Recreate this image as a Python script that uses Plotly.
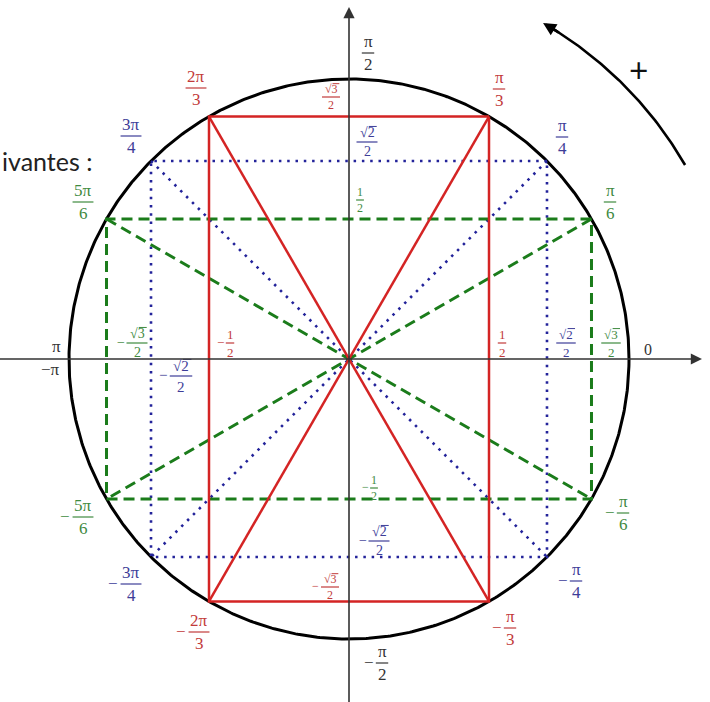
import numpy as np
import plotly.graph_objects as go

# ---------------- data ----------------
# remarkable angles (degrees) for each family
angles_red = [60, 120, -120, -60]      # pi/3, 2pi/3, -2pi/3, -pi/3
angles_blue = [45, 135, -135, -45]     # pi/4, 3pi/4, -3pi/4, -pi/4
angles_green = [30, 150, -150, -30]    # pi/6, 5pi/6, -5pi/6, -pi/6
arc_angles = [30, 60]                  # direction arrow (positive sense)

# angle labels: (numerator, denominator, negative?, family)
angle_labels = [
    ("π", "2", False, "gray"), ("π", "3", False, "red"), ("π", "4", False, "blue"),
    ("π", "6", False, "green"), ("2π", "3", False, "red"), ("3π", "4", False, "blue"),
    ("5π", "6", False, "green"), ("5π", "6", True, "green"), ("3π", "4", True, "blue"),
    ("2π", "3", True, "red"), ("π", "2", True, "gray"), ("π", "3", True, "red"),
    ("π", "4", True, "blue"), ("π", "6", True, "green"),
]
# cos / sin value labels: (numerator, denominator, negative?, family)
value_labels = [
    ("1", "2", False, "red"), ("√2", "2", False, "blue"), ("√3", "2", False, "green"),
    ("1", "2", True, "red"), ("√3", "2", True, "green"), ("√2", "2", True, "blue"),
    ("√3", "2", False, "red"), ("√2", "2", False, "blue"), ("1", "2", False, "green"),
    ("1", "2", True, "green"), ("√2", "2", True, "blue"), ("√3", "2", True, "red"),
]
intro_text = "ivantes :"

# ---------------- layout helpers ----------------
W, H = 710, 702
CX, CY, R = 349, 359, 280

# label placement (pixel centre of the fraction bar) and font size
angle_label_pos = [
    (368, 53, 17), (499, 89, 17), (562, 137, 17), (610, 202, 17), (196, 88, 17),
    (131, 136, 17), (83, 202, 17), (83, 517, 17), (131, 584, 17), (199, 632, 17),
    (382, 663, 17), (510, 628, 17), (576, 581, 17), (623, 513, 17),
]
value_label_pos = [
    (502, 343, 13), (566, 343, 13), (611, 343, 13), (230, 343, 13), (137, 343, 14),
    (181, 376, 15), (331, 97, 12), (367, 142, 14), (360, 200, 12), (374, 488, 12),
    (379, 541, 14), (330, 587, 12),
]

line_col = {"red": "#d42424", "blue": "#23239a", "green": "#1b7c1b"}
text_col = {"red": "#c23a3a", "blue": "#3d3d98", "green": "#3f8a3f", "gray": "#333333"}
FONT = "Liberation Serif"


def dx(p):
    return (p - CX) / R


def dy(p):
    return (CY - p) / R


def pt(a):
    t = np.deg2rad(a)
    return np.cos(t), np.sin(t)


fig = go.Figure()

# circle
t = np.linspace(0, 2 * np.pi, 721)
fig.add_trace(go.Scatter(x=np.cos(t), y=np.sin(t), mode="lines",
                         line=dict(color="black", width=3), hoverinfo="skip"))


def family_trace(angles, color, dash, width):
    P = [pt(a) for a in angles]
    xs, ys = [], []
    # rectangle
    for i in range(5):
        xs.append(P[i % 4][0]); ys.append(P[i % 4][1])
    xs.append(None); ys.append(None)
    # diagonals
    for i, j in [(0, 2), (1, 3)]:
        xs += [P[i][0], P[j][0], None]
        ys += [P[i][1], P[j][1], None]
    fig.add_trace(go.Scatter(x=xs, y=ys, mode="lines", hoverinfo="skip",
                             line=dict(color=color, width=width, dash=dash)))


family_trace(angles_blue, line_col["blue"], "2.5px,5.8px", 2.6)
family_trace(angles_green, line_col["green"], "11px,6px", 3)
family_trace(angles_red, line_col["red"], "solid", 2.5)

# rotation arc
ra = 1.386
ta = np.deg2rad(np.linspace(arc_angles[0], arc_angles[1] - 1.5, 80))
fig.add_trace(go.Scatter(x=ra * np.cos(ta), y=ra * np.sin(ta), mode="lines",
                         line=dict(color="black", width=2.6), hoverinfo="skip"))

annotations = []
shapes = []

# axes with arrows
annotations.append(dict(x=dx(702), y=0, ax=dx(-5), ay=0, axref="x", ayref="y",
                        xref="x", yref="y", text="", showarrow=True, arrowhead=2,
                        arrowsize=1.4, arrowwidth=1.6, arrowcolor="#333333", standoff=0))
annotations.append(dict(x=0, y=dy(7), ax=0, ay=dy(710), axref="x", ayref="y",
                        xref="x", yref="y", text="", showarrow=True, arrowhead=2,
                        arrowsize=1.4, arrowwidth=1.6, arrowcolor="#333333", standoff=0))
# arrow head of rotation arc
ha, hb = np.deg2rad(arc_angles[1]), np.deg2rad(arc_angles[1] - 3)
annotations.append(dict(x=ra * np.cos(ha), y=ra * np.sin(ha), ax=ra * np.cos(hb),
                        ay=ra * np.sin(hb), axref="x", ayref="y", xref="x", yref="y",
                        text="", showarrow=True, arrowhead=2, arrowsize=1.0,
                        arrowwidth=2.6, arrowcolor="black", standoff=0))


def text(xp, yp, s, color, size, font=FONT, xanchor="center"):
    annotations.append(dict(x=dx(xp), y=dy(yp), text=s, showarrow=False, xref="x",
                            yref="y", xanchor=xanchor, yanchor="middle",
                            font=dict(family=font, size=size, color=color)))


CW = {"π": 0.58, "√": 0.85, "2": 0.5, "3": 0.5, "4": 0.5, "5": 0.5, "6": 0.5, "1": 0.5}


def wid(s, size):
    return sum(CW.get(c, 0.5) for c in s) * size


def frac(xp, yp, num, den, neg, color, size):
    text(xp, yp - 0.66 * size, num, color, size)
    text(xp, yp + 0.70 * size, den, color, size)
    blen = max(wid(num, size), wid(den, size)) + 0.15 * size
    shapes.append(dict(type="line", xref="x", yref="y", x0=dx(xp - blen / 2),
                       x1=dx(xp + blen / 2), y0=dy(yp), y1=dy(yp),
                       line=dict(color=color, width=1.2)))
    if "√" in num:
        # radical overline on the digit
        w = wid(num, size)
        x0 = xp - w / 2 + 0.80 * size
        x1 = xp + w / 2 + 0.02 * size
        yo = yp - 0.66 * size - 0.45 * size
        shapes.append(dict(type="line", xref="x", yref="y", x0=dx(x0), x1=dx(x1),
                           y0=dy(yo), y1=dy(yo), line=dict(color=color, width=1)))
    if neg:
        text(xp - blen / 2 - 0.42 * size, yp - 0.05 * size, "−", color, size)


for (num, den, neg, fam), (xp, yp, sz) in zip(angle_labels, angle_label_pos):
    frac(xp, yp, num, den, neg, text_col[fam], sz)
for (num, den, neg, fam), (xp, yp, sz) in zip(value_labels, value_label_pos):
    frac(xp, yp, num, den, neg, text_col[fam], sz)

# single-line labels
text(648, 349, "0", "#333333", 16)
text(56, 346, "π", "#333333", 17)
text(50, 369, "−π", "#333333", 17)
text(638, 70, "+", "#111111", 34, font="Open Sans")
text(0, 161, intro_text, "#222222", 25, font="Lato", xanchor="left")

fig.update_layout(
    width=W, height=H, autosize=False,
    margin=dict(l=0, r=0, t=0, b=0, pad=0),
    paper_bgcolor="white", plot_bgcolor="white", showlegend=False,
    xaxis=dict(range=[dx(0), dx(W)], visible=False, fixedrange=True),
    yaxis=dict(range=[dy(H), dy(0)], visible=False, fixedrange=True),
    annotations=annotations, shapes=shapes,
)
fig.write_html("out.html", config={"displayModeBar": False},
               post_script="document.body.style.margin='0';document.body.style.overflow='hidden';")
